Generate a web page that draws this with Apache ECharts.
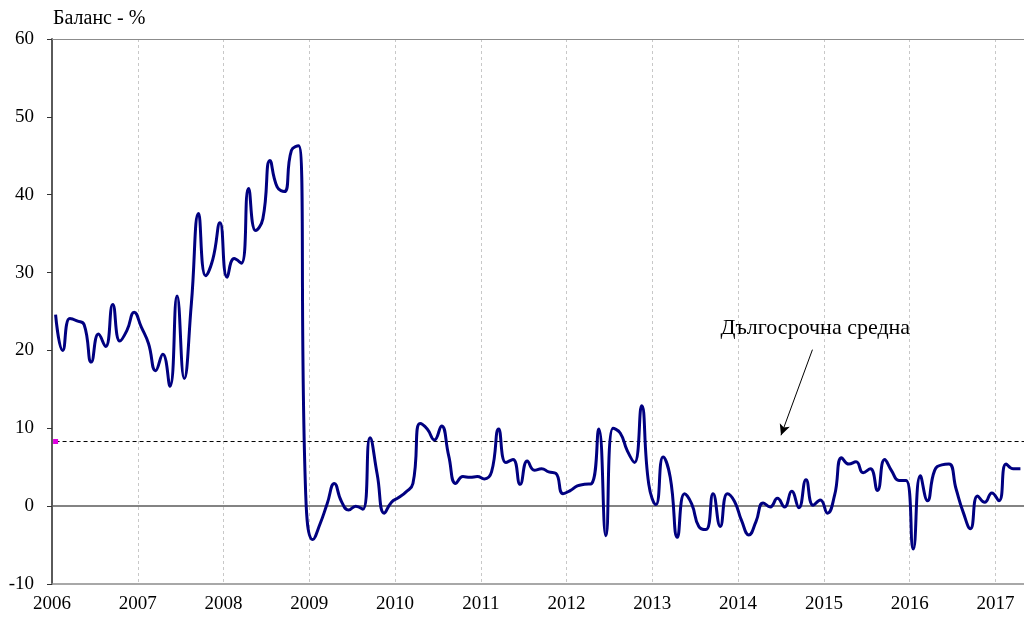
<!DOCTYPE html>
<html lang="bg">
	<head>
		<meta charset="UTF-8" />
		<title>Баланс - %</title>
		<script src="https://cdn.jsdelivr.net/npm/echarts@6/dist/echarts.min.js"></script>
		<style>
			html, body { margin: 0; padding: 0; background: #fff; }
			#chart { width: 1024px; height: 617px; }
		</style>
	</head>
	<body>
		<div id="chart"></div>
		<script>
			// monthly balance, Jan 2006 .. Apr 2017
			const balance = [
				24.6, 20.0, 24.1, 23.8, 23.3, 18.5, 22.1, 20.5, 25.9, 21.2, 22.6, 24.9,
				23.0, 20.9, 17.4, 19.5, 15.4, 27.0, 16.4, 26.0, 37.6, 29.6, 31.7, 36.4,
				29.4, 31.8, 31.2, 40.8, 35.4, 36.9, 44.4, 41.0, 40.4, 45.7, 46.3, 1.5,
				-4.3, -2.3, 0.3, 2.9, 0.6, -0.5, 0.0, -0.4, 8.8, 4.1, -0.9, 0.5,
				1.1, 1.8, 2.9, 10.6, 9.9, 8.5, 10.3, 6.5, 2.9, 3.8, 3.7, 3.8,
				3.5, 4.4, 9.9, 5.6, 6.0, 2.8, 5.8, 4.6, 4.8, 4.4, 4.2, 1.6,
				2.0, 2.6, 2.8, 2.9, 9.9, -3.8, 10.0, 9.4, 7.1, 5.6, 12.9, 2.8,
				0.2, 6.3, 3.7, -4.0, 1.6, 0.3, -2.6, -3.0, 1.6, -2.6, 1.6, 0.6,
				-1.9, -3.7, -2.0, 0.4, -0.1, 1.0, -0.1, 1.9, -0.2, 3.4, 0.1, 0.8,
				-0.9, 1.4, 6.2, 5.4, 5.7, 4.3, 4.8, 2.0, 6.0, 4.5, 3.3, 3.3,
				-5.5, 3.9, 0.7, 4.6, 5.3, 5.4, 2.2, -0.8, -2.9, 1.3, 0.5, 1.7,
				0.7, 5.4, 4.8, 4.8
			];
			const years = ["2006", "2007", "2008", "2009", "2010", "2011", "2012", "2013", "2014", "2015", "2016", "2017"];
			const longTermAverage = 8.3;
			const yTicks = [-10, 0, 10, 20, 30, 40, 50, 60];

			// annotation arrow (months from Jan 2006, value)
			const noteText = "Дългосрочна средна";
			const notePos = [106.8, 22.9];
			const arrowFrom = [106.4, 20.1];
			const arrowTo = [102.0, 9.1];

			const font = '"Liberation Serif", "Times New Roman", serif';
			const months = balance.length;
			const lineData = balance.map((v, i) => [i + 0.5, v]);

			const chart = echarts.init(document.getElementById("chart"), null, { renderer: "canvas" });

			chart.setOption({
				animation: false,
				backgroundColor: "#ffffff",
				title: {
					text: "Баланс - %",
					left: 53,
					top: 9,
					padding: 0,
					textStyle: { fontFamily: font, fontSize: 20, fontWeight: "normal", color: "#000" }
				},
				grid: { left: 52, right: 0, top: 39, bottom: 33, containLabel: false, outerBoundsMode: "none" },
				xAxis: {
					type: "value",
					min: 0,
					max: months,
					interval: 12,
					axisLine: { onZero: false, lineStyle: { color: "#8c8c8c", width: 1.5 } },
					axisTick: { show: false },
					axisLabel: {
						margin: 11,
						showMaxLabel: false,
						fontFamily: font,
						fontSize: 19,
						color: "#000",
						formatter: (v) => (v % 12 === 0 ? years[v / 12] || "" : "")
					},
					splitLine: { show: true, lineStyle: { color: "#c8c8c8", type: [3, 3], width: 1 } }
				},
				yAxis: {
					type: "value",
					min: yTicks[0],
					max: yTicks[yTicks.length - 1],
					interval: 10,
					axisLine: { show: true, lineStyle: { color: "#5a5a5a", width: 2 } },
					axisTick: { show: true, length: 5, lineStyle: { color: "#333" } },
					axisLabel: { margin: 18, fontFamily: font, fontSize: 19, color: "#000" },
					splitLine: { show: false }
				},
				series: [
					{
						name: "Баланс",
						type: "line",
						data: lineData,
						smooth: 0.5,
						showSymbol: false,
						lineStyle: { color: "#000080", width: 3 },
						z: 5,
						markLine: {
							silent: true,
							symbol: ["none", "none"],
							label: { show: false },
							data: [
								{ yAxis: 0, lineStyle: { color: "#5a5a5a", width: 1.5, type: "solid" } },
								{ yAxis: yTicks[yTicks.length - 1], lineStyle: { color: "#8c8c8c", width: 1, type: "solid" } },
								[
									{ coord: arrowFrom, symbol: "none", lineStyle: { color: "#000", width: 1, type: "solid" } },
									{ coord: arrowTo, symbol: "arrow", symbolSize: [8, 11] }
								]
							]
						},
						markPoint: {
							silent: true,
							symbol: "rect",
							symbolSize: 0,
							data: [
								{
									coord: notePos,
									label: {
										show: true,
										formatter: noteText,
										fontFamily: font,
										fontSize: 22,
										color: "#000"
									}
								}
							]
						}
					},
					{
						name: "Дългосрочна средна",
						type: "line",
						z: 3,
						data: [
							{ value: [0.5, longTermAverage], symbol: "rect", symbolSize: 5, itemStyle: { color: "#e000e0" } },
							{ value: [months, longTermAverage], symbol: "none" }
						],
						showSymbol: true,
						lineStyle: { color: "#000", width: 1, type: [4, 3] }
					}
				]
			});
		</script>
	</body>
</html>
